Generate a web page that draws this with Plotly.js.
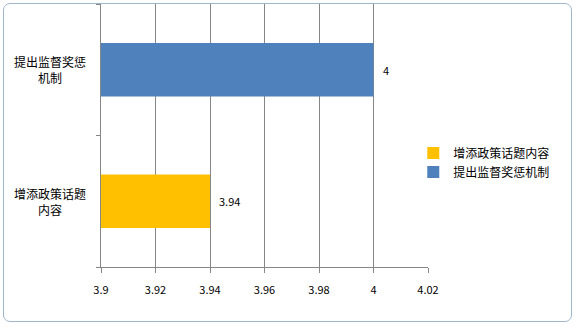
<!DOCTYPE html>
<html><head><meta charset="utf-8">
<script src="https://cdn.plot.ly/plotly-3.0.1.min.js"></script>
<style>
html,body{margin:0;padding:0;background:#fff;}
#wrap{position:absolute;left:3px;top:3px;width:567px;height:317px;border:1px solid #9fb6cc;border-radius:7px;box-sizing:content-box;}
#chart{position:absolute;left:0;top:0;width:576px;height:327px;}
</style>
</head><body>
<div id="wrap"></div>
<div id="chart"></div>
<script>
const categories = ['增添政策话题内容', '提出监督奖惩机制'];
const categoryLabels = ['增添政策话题<br>内容', '提出监督奖惩<br>机制'];
const seriesNames = ['增添政策话题内容', '提出监督奖惩机制'];
const seriesValues = [3.94, 4];
const seriesText = ['3.94', '4'];
const xTickVals = [3.9, 3.92, 3.94, 3.96, 3.98, 4, 4.02];
const xTickText = ['3.9', '3.92', '3.94', '3.96', '3.98', '4', '4.02'];
const colors = ['#ffc000', '#4f81bd'];

const font = "'Noto Sans CJK SC', 'Noto Sans', sans-serif";

const traces = seriesNames.map((name, i) => ({
  type: 'bar',
  orientation: 'h',
  name: name,
  y: [categories[i]],
  x: [seriesValues[i]],
  marker: {color: colors[i]},
  hoverinfo: 'none'
}));

const annotations = categories.map((c, i) => ({
  xref: 'paper', yref: 'y', x: -0.155, y: c,
  text: categoryLabels[i], showarrow: false, align: 'center',
  xanchor: 'center', yanchor: 'middle',
  font: {size: 12, color: '#000', family: font}
})).concat(seriesValues.map((v, i) => ({
  xref: 'x', yref: 'y', x: v, y: categories[i],
  text: seriesText[i], showarrow: false,
  xanchor: 'left', yanchor: 'middle', xshift: 7,
  font: {size: 11, color: '#000', family: font}
})));

const layout = {
  width: 576, height: 327,
  paper_bgcolor: 'rgba(0,0,0,0)',
  plot_bgcolor: 'rgba(0,0,0,0)',
  margin: {l: 101, r: 148, t: 4, b: 60},
  barmode: 'overlay',
  bargap: 0.595,
  font: {family: font, size: 11, color: '#000'},
  xaxis: {
    range: [3.9, 4.02],
    tickmode: 'array', tickvals: xTickVals, ticktext: xTickText,
    showgrid: true, gridcolor: '#868686', gridwidth: 1,
    zeroline: false,
    showline: true, linecolor: '#868686', linewidth: 1,
    ticks: 'outside', ticklen: 5, tickcolor: '#868686',
    ticklabelstandoff: 8,
    tickfont: {size: 11, color: '#000', family: font},
    fixedrange: true
  },
  yaxis: {
    type: 'category',
    categoryorder: 'array', categoryarray: categories,
    showticklabels: false,
    showline: true, linecolor: '#868686', linewidth: 1,
    ticks: 'outside', ticklen: 4, tickcolor: '#868686',
    tickson: 'boundaries',
    showgrid: false, zeroline: false,
    fixedrange: true
  },
  showlegend: true,
  legend: {
    x: 0.955, xanchor: 'left', y: 0.397, yanchor: 'middle',
    font: {size: 12, color: '#000', family: font},
    bgcolor: 'rgba(0,0,0,0)', tracegroupgap: 0,
    itemwidth: 30
  },
  annotations: annotations
};

Plotly.newPlot('chart', traces, layout, {displayModeBar: false, staticPlot: true});
</script>
</body></html>
